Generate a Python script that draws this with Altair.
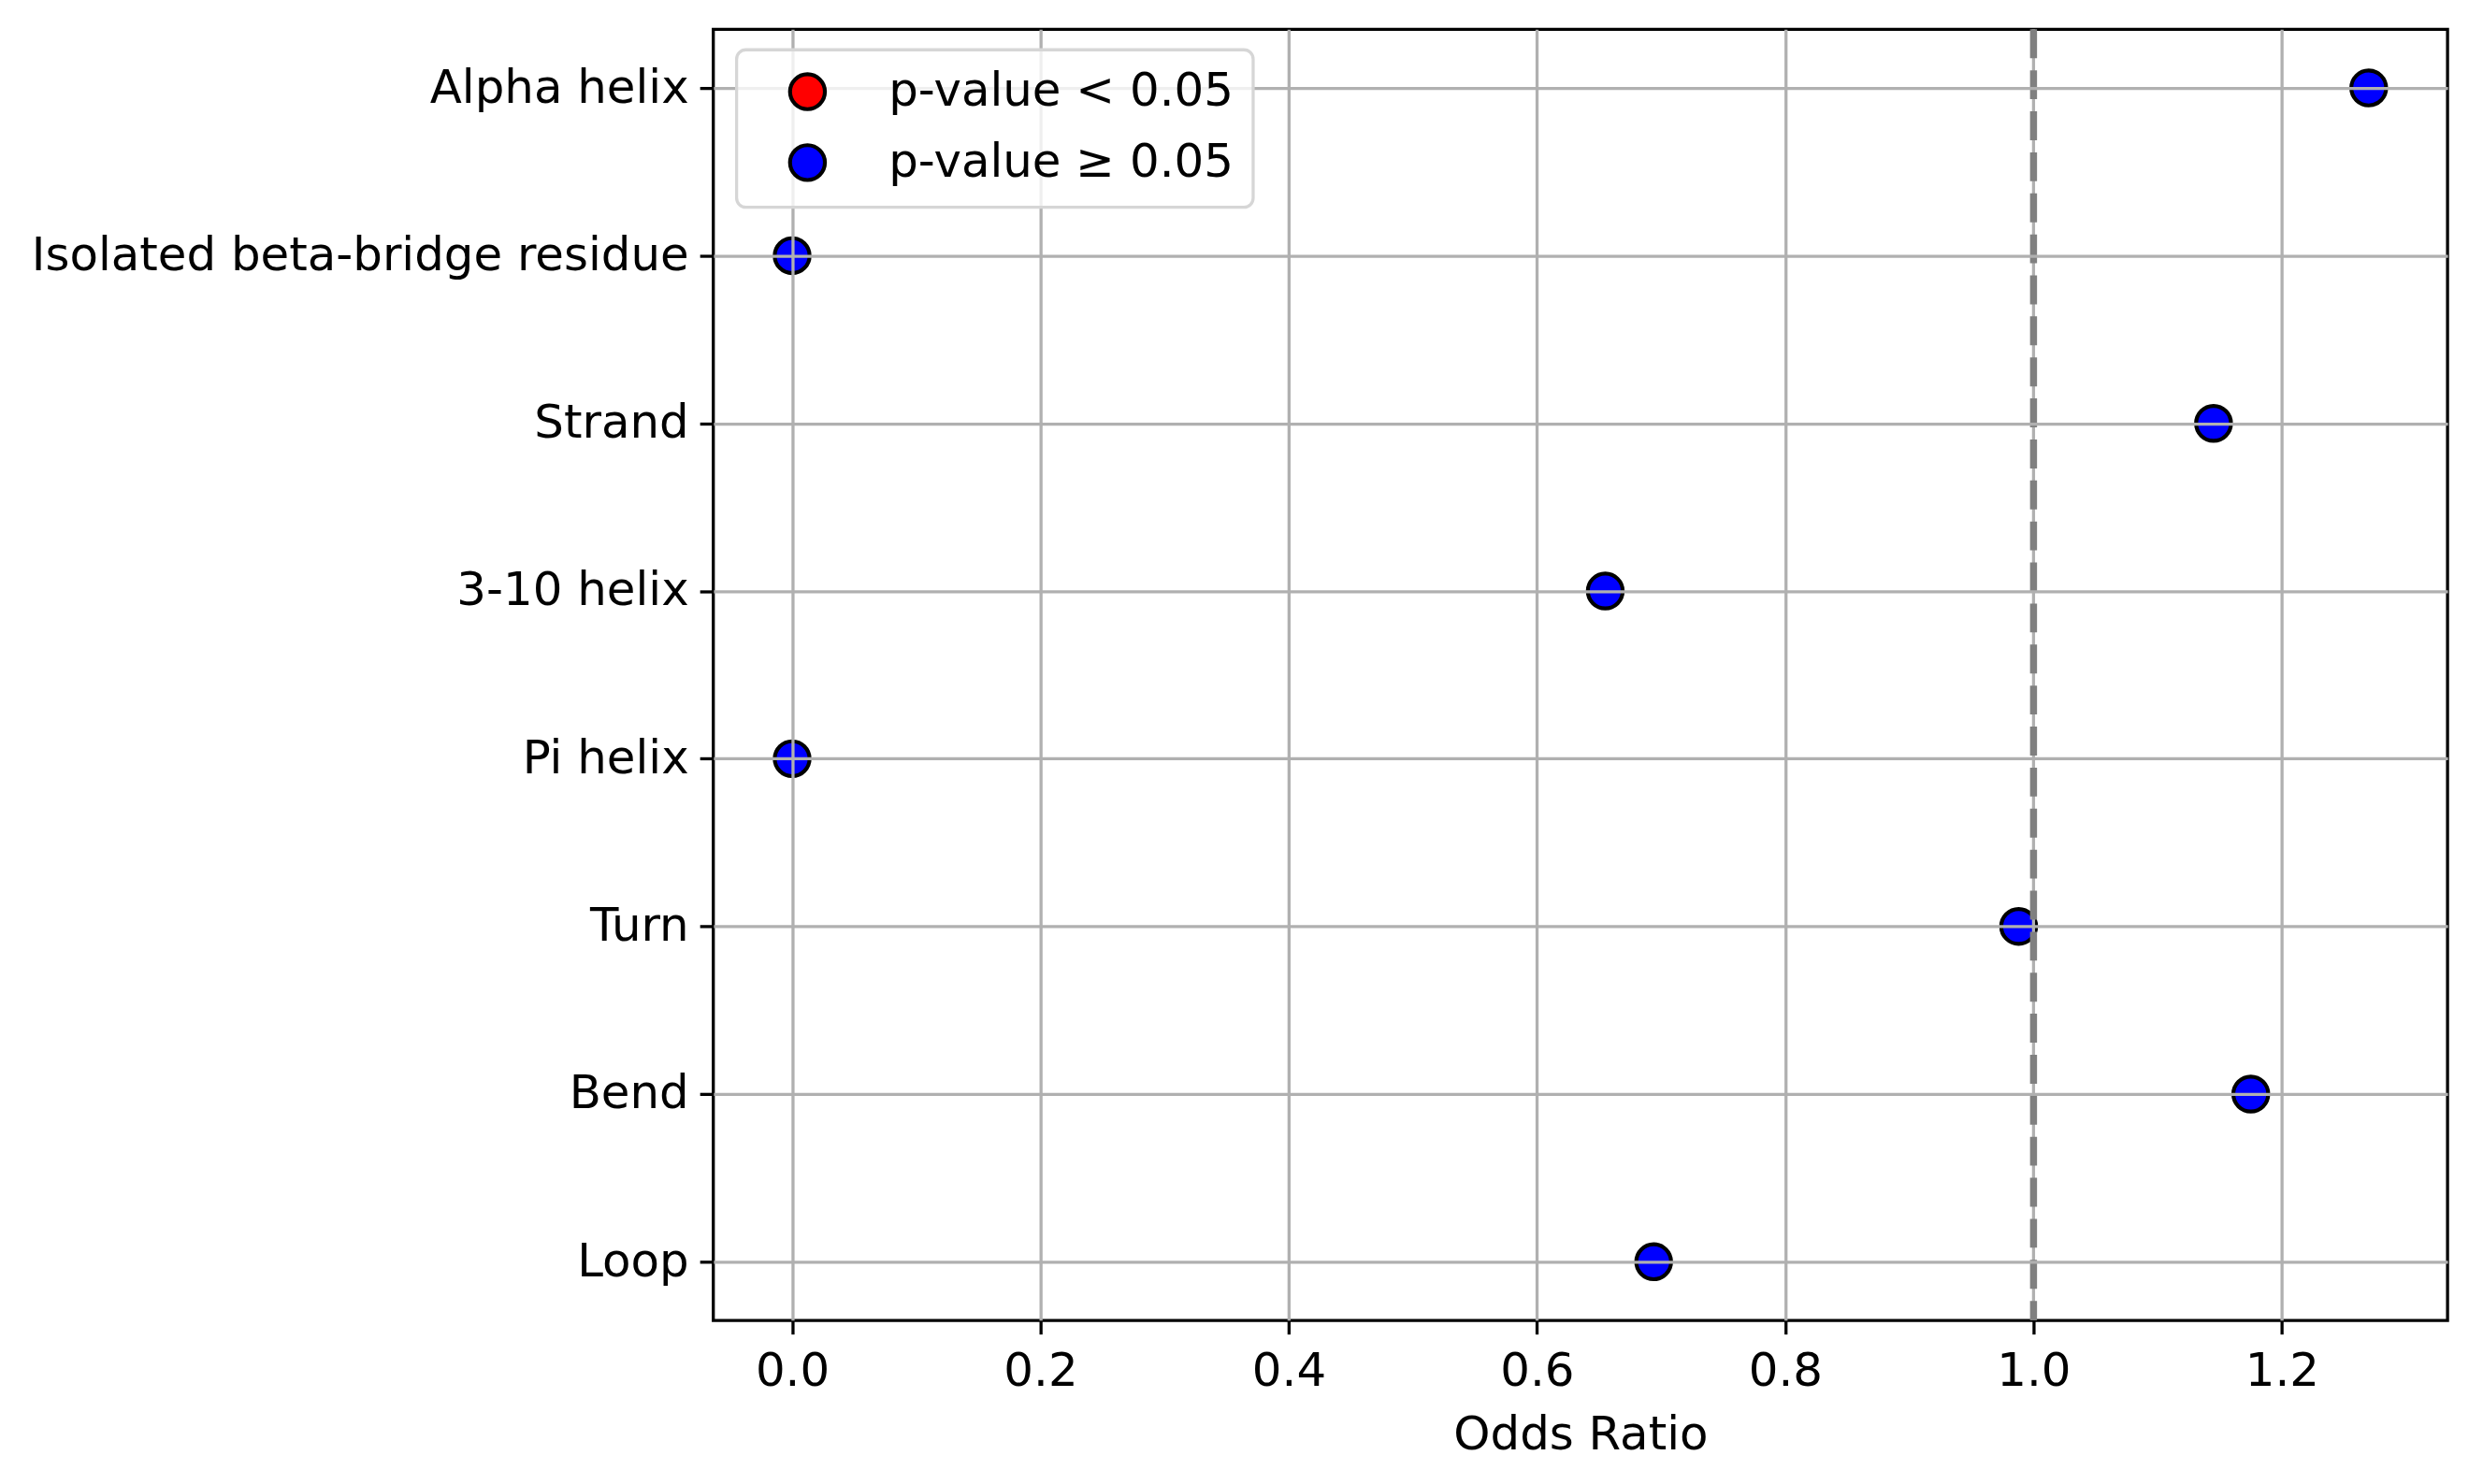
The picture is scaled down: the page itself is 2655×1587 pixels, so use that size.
import altair as alt
import pandas as pd

categories = ["Alpha helix", "Isolated beta-bridge residue", "Strand", "3-10 helix",
              "Pi helix", "Turn", "Bend", "Loop"]
odds_ratio = [1.27, 0.0, 1.145, 0.655, 0.0, 0.988, 1.175, 0.694]
p_group = ["p-value \u2265 0.05"] * 8
legend_labels = ["p-value < 0.05", "p-value \u2265 0.05"]
legend_colors = ["red", "blue"]
x_ticks = [0.0, 0.2, 0.4, 0.6, 0.8, 1.0, 1.2]
ref_line = [1.0]

df = pd.DataFrame({"category": categories, "odds": odds_ratio, "group": p_group})
ref = pd.DataFrame({"x": ref_line})

FONT = "DejaVu Sans"
xscale = alt.Scale(domain=[-0.0635, 1.3335], nice=False, zero=False)

points = alt.Chart(df).mark_point(
    filled=True, shape="circle", size=1400, stroke="black", strokeWidth=4.2, opacity=1
).encode(
    x=alt.X("odds:Q", scale=xscale, title="Odds Ratio",
            axis=alt.Axis(values=x_ticks, format=".1f", zindex=1, labelPadding=15, titlePadding=18,
                          gridOpacity={"condition": {"test": "abs(datum.value - 1) < 1e-9", "value": 0}, "value": 1})),
    y=alt.Y("category:N", sort=categories, title=None,
            scale=alt.Scale(type="point", padding=0.35),
            axis=alt.Axis(zindex=1, labelPadding=12)),
    fill=alt.Fill("group:N", scale=alt.Scale(domain=legend_labels, range=legend_colors),
                  legend=alt.Legend(title=None, orient="none", legendX=25, legendY=22,
                                    direction="vertical", zindex=2)),
)

grid_under = alt.Chart(ref).mark_rule(color="#b0b0b0", strokeWidth=3.3).encode(
    x=alt.X("x:Q", scale=xscale)
)
dashed = alt.Chart(ref).mark_rule(color="#808080", strokeWidth=7.5, strokeDash=[31, 13]).encode(
    x=alt.X("x:Q", scale=xscale)
)

chart = alt.layer(points, grid_under, dashed).properties(
    width=1860, height=1385,
    autosize=alt.AutoSizeParams(type="none"),
    padding={"left": 757, "top": 21, "right": 30, "bottom": 160},
    background="white",
).configure_view(
    stroke="black", strokeWidth=3.3
).configure_axis(
    labelFont=FONT, labelFontSize=50, labelColor="black", labelLimit=0,
    titleFont=FONT, titleFontSize=50, titleFontWeight="normal", titleColor="black",
    tickColor="black", tickWidth=3.3, tickSize=14.6,
    grid=True, gridColor="#b0b0b0", gridWidth=3.3,
    domain=False,
).configure_legend(
    symbolType="circle", symbolSize=1400,
    symbolStrokeWidth=4.2, symbolStrokeColor="black",
    symbolOffset=31, labelOffset=62, labelLimit=0,
    labelFont=FONT, labelFontSize=50, labelColor="black",
    rowPadding=20, padding=20, cornerRadius=10,
    strokeColor="#d6d6d6", strokeWidth=3.3,
    fillColor="rgba(255,255,255,0.8)",
)

chart.save("out.html", embed_options={"renderer": "svg", "actions": False})
